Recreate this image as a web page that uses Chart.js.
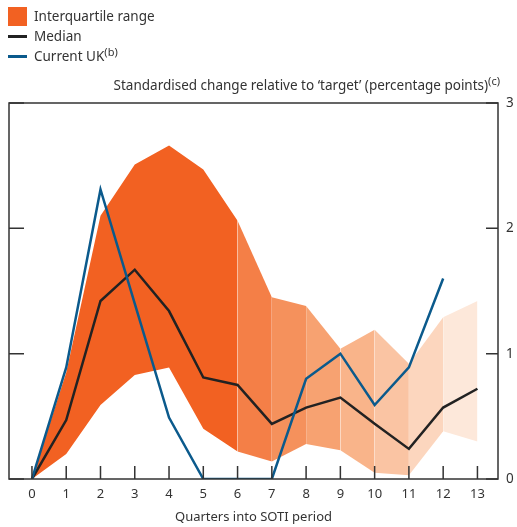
<!DOCTYPE html>
<html>
<head>
<meta charset="utf-8">
<script src="https://cdn.jsdelivr.net/npm/chart.js@4.4.1/dist/chart.umd.min.js"></script>
<style>
  html, body { margin: 0; padding: 0; background: #fff; }
  body { width: 517px; height: 527px; position: relative; overflow: hidden; font-family: "Noto Sans", sans-serif; color: #333; }
  #wrap { position: absolute; left: 0; top: 0; width: 517px; height: 527px; }
  .legend { position: absolute; left: 8px; top: 6px; font-size: 13.5px; line-height: 20px; }
  .legend div { display: flex; align-items: center; height: 20px; }
  .legend .box { width: 19px; height: 19px; background: #F26122; margin-right: 7px; }
  .legend .ln { width: 19px; height: 3px; margin-right: 7px; }
  sup { font-size: 11px; vertical-align: 5px; line-height: 0; }
  .ytitle { position: absolute; right: 17px; top: 76px; font-size: 13.5px; white-space: nowrap; }
</style>
</head>
<body>
<div id="wrap"><canvas id="chart" width="517" height="527"></canvas></div>
<div class="legend">
  <div><span class="box"></span><span>Interquartile range</span></div>
  <div><span class="ln" style="background:#222"></span><span>Median</span></div>
  <div><span class="ln" style="background:#0B5A8C"></span><span>Current UK<sup>(b)</sup></span></div>
</div>
<div class="ytitle">Standardised change relative to ‘target’ (percentage points)<sup>(c)</sup></div>
<script>
// Quarters into SOTI period
const quarters = [0, 1, 2, 3, 4, 5, 6, 7, 8, 9, 10, 11, 12, 13];
// interquartile range, upper and lower edges
const upperQ = [0, 0.85, 2.1, 2.51, 2.66, 2.47, 2.06, 1.45, 1.38, 1.04, 1.19, 0.92, 1.29, 1.42];
const lowerQ = [0, 0.2, 0.59, 0.83, 0.89, 0.40, 0.22, 0.14, 0.28, 0.23, 0.05, 0.03, 0.38, 0.30];
const median = [0, 0.47, 1.42, 1.67, 1.34, 0.81, 0.75, 0.44, 0.57, 0.65, 0.44, 0.24, 0.57, 0.72];
const currentUK = [0, 0.89, 2.31, 1.4, 0.49, 0, 0, 0, 0.80, 1.0, 0.59, 0.89, 1.60];
const yTicks = [0, 1, 2, 3];

// band shading: full colour up to quarter 6, then fading one quarter at a time
const bandColours = ['#F26122', '#F47F47', '#F5915C', '#F7A271', '#F9B48A', '#FAC4A3', '#FCD6BE', '#FDE8DA'];
const bandStarts = [0, 6, 7, 8, 9, 10, 11, 12];
const bandEnds = [6, 7, 8, 9, 10, 11, 12, 13];

const pts = (arr, from, to) => quarters.slice(from, to + 1).map(q => ({ x: q, y: arr[q] }));

const datasets = [];
bandStarts.forEach((s, i) => {
    datasets.push({
        data: pts(upperQ, s, bandEnds[i]),
        borderWidth: 0, pointRadius: 0, tension: 0,
        backgroundColor: bandColours[i], borderColor: bandColours[i],
        fill: '+1', order: 10
    });
    datasets.push({
        data: pts(lowerQ, s, bandEnds[i]),
        borderWidth: 0, pointRadius: 0, tension: 0,
        borderColor: bandColours[i], fill: false, order: 10
    });
});
datasets.push({
    label: 'Median', data: pts(median, 0, 13),
    borderColor: '#222', borderWidth: 2.5, pointRadius: 0, fill: false, order: 2
});
datasets.push({
    label: 'Current UK', data: currentUK.map((v, i) => ({ x: quarters[i], y: v })),
    borderColor: '#0B5A8C', borderWidth: 2.5, pointRadius: 0, fill: false, order: 1
});

// frame and inward tick marks
const framePlugin = {
    id: 'frame',
    afterDraw(chart) {
        const { ctx, chartArea: a, scales } = chart;
        ctx.save();
        ctx.strokeStyle = '#333';
        ctx.lineWidth = 1.5;
        ctx.strokeRect(a.left, a.top, a.right - a.left, a.bottom - a.top);
        ctx.beginPath();
        yTicks.forEach(v => {
            const y = scales.y.getPixelForValue(v);
            ctx.moveTo(a.left, y); ctx.lineTo(a.left + 15, y);
            ctx.moveTo(a.right, y); ctx.lineTo(a.right - 12, y);
        });
        quarters.forEach(q => {
            const x = scales.x.getPixelForValue(q);
            ctx.moveTo(x, a.bottom); ctx.lineTo(x, a.bottom - 13);
        });
        ctx.stroke();
        ctx.restore();
    }
};

new Chart(document.getElementById('chart'), {
    type: 'line',
    data: { datasets },
    options: {
        responsive: false,
        animation: false,
        layout: { padding: { left: 9, top: 103, right: 0, bottom: 0 } },
        plugins: { legend: { display: false }, tooltip: { enabled: false } },
        scales: {
            x: {
                type: 'linear', min: -0.67, max: 13.6,
                afterBuildTicks: s => { s.ticks = quarters.map(v => ({ value: v })); },
                afterFit: s => { s.height = 48; },
                grid: { display: false, drawTicks: false },
                border: { display: false },
                ticks: { padding: 7, color: '#333', font: { family: 'Noto Sans', size: 13 } },
                title: { display: true, text: 'Quarters into SOTI period', color: '#333',
                         font: { family: 'Noto Sans', size: 13 }, padding: { top: 0, bottom: 2 } }
            },
            y: {
                position: 'right', min: 0, max: 3,
                afterBuildTicks: s => { s.ticks = yTicks.map(v => ({ value: v })); },
                afterFit: s => { s.width = 19; },
                grid: { display: false, drawTicks: false },
                border: { display: false },
                ticks: { padding: 8, color: '#333', font: { family: 'Noto Sans', size: 13.5 } }
            }
        }
    },
    plugins: [framePlugin]
});
</script>
</body>
</html>
